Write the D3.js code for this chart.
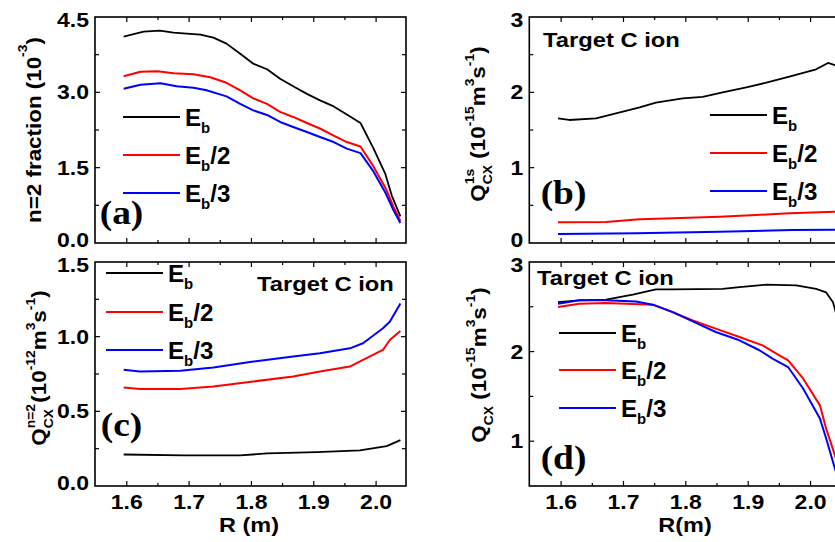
<!DOCTYPE html>
<html>
<head>
<meta charset="utf-8">
<script src="https://cdn.jsdelivr.net/npm/d3@7"></script>
<style>
  html, body { margin: 0; padding: 0; background: #fff; }
  svg { display: block; }
</style>
</head>
<body>
<svg id="fig" width="835" height="542"></svg>
<script>
// ---- data: radial profiles for three beam energy components ----
const seriesNames = ["Eb", "Eb/2", "Eb/3"];
const seriesColors = ["#000000", "#ff0000", "#0000ff"];

// (a) n=2 fraction (1e-3)
const aR_Eb = [1.595,1.627,1.653,1.675,1.696,1.718,1.739,1.76,1.782,1.803,1.825,1.846,1.867,1.889,1.91,1.932,1.953,1.975,1.996,2.015,2.025,2.039];
const aV_Eb = [4.11,4.21,4.23,4.19,4.17,4.15,4.09,3.97,3.77,3.57,3.46,3.27,3.12,2.97,2.84,2.72,2.56,2.39,1.88,1.37,0.95,0.53];
const aR_Eb2 = [1.595,1.622,1.649,1.675,1.707,1.734,1.76,1.782,1.803,1.825,1.846,1.867,1.889,1.91,1.932,1.953,1.975,1.996,2.017,2.028,2.039];
const aV_Eb2 = [3.32,3.41,3.42,3.38,3.36,3.30,3.19,3.04,2.88,2.77,2.61,2.51,2.39,2.28,2.14,2.01,1.92,1.52,1.05,0.72,0.44];
const aR_Eb3 = [1.595,1.622,1.654,1.68,1.707,1.728,1.76,1.782,1.803,1.825,1.846,1.867,1.889,1.91,1.932,1.953,1.975,1.996,2.015,2.028,2.039];
const aV_Eb3 = [3.07,3.15,3.18,3.12,3.09,3.04,2.92,2.77,2.64,2.55,2.41,2.31,2.21,2.11,2.01,1.88,1.79,1.42,1.00,0.65,0.40];

// (b) Q_CX^1s (1e-15 m^3 s^-1)
const bR_Eb = [1.595,1.613,1.656,1.699,1.726,1.752,1.795,1.827,1.859,1.897,1.929,1.966,2.009,2.028,2.039,2.046];
const bV_Eb = [1.655,1.633,1.655,1.743,1.80,1.863,1.92,1.94,2.0,2.067,2.128,2.21,2.306,2.39,2.36,2.33];
const bR_Eb2 = [1.595,1.672,1.726,1.779,1.854,1.913,1.966,2.046];
const bV_Eb2 = [0.275,0.28,0.314,0.327,0.35,0.372,0.394,0.418];
const bR_Eb3 = [1.595,1.721,1.854,1.97,2.046];
const bV_Eb3 = [0.12,0.128,0.15,0.173,0.175];

// (c) Q_CX^n=2 (1e-12 m^3 s^-1)
const cR_Eb = [1.595,1.691,1.782,1.825,1.905,1.974,2.017,2.039];
const cV_Eb = [0.211,0.205,0.205,0.218,0.227,0.238,0.267,0.307];
const cR_Eb2 = [1.595,1.621,1.686,1.739,1.803,1.867,1.91,1.958,1.979,2.011,2.022,2.039];
const cV_Eb2 = [0.66,0.649,0.649,0.667,0.70,0.733,0.767,0.80,0.845,0.911,0.978,1.038];
const cR_Eb3 = [1.595,1.621,1.686,1.739,1.803,1.867,1.91,1.958,1.979,2.011,2.022,2.039];
const cV_Eb3 = [0.778,0.767,0.771,0.793,0.833,0.867,0.889,0.922,0.956,1.056,1.10,1.222];

// (d) Q_CX (1e-15 m^3 s^-1)
const dR_Eb = [1.595,1.629,1.672,1.715,1.752,1.779,1.859,1.886,1.929,1.977,2.009,2.025,2.036,2.046];
const dV_Eb = [2.553,2.572,2.58,2.635,2.695,2.695,2.70,2.72,2.747,2.739,2.70,2.66,2.55,2.30];
const dR_Eb2 = [1.595,1.629,1.672,1.747,1.779,1.811,1.848,1.886,1.923,1.95,1.964,1.988,2.015,2.025,2.039,2.046];
const dV_Eb2 = [2.497,2.535,2.542,2.524,2.44,2.349,2.256,2.163,2.07,1.959,1.903,1.70,1.40,1.14,0.844,0.70];
const dR_Eb3 = [1.595,1.629,1.672,1.72,1.747,1.779,1.811,1.848,1.886,1.918,1.939,1.964,1.988,2.015,2.025,2.039,2.046];
const dV_Eb3 = [2.535,2.572,2.572,2.56,2.524,2.44,2.338,2.219,2.126,2.015,1.922,1.828,1.588,1.253,1.03,0.695,0.55];

// axis ticks
const rTicks = [1.6, 1.7, 1.8, 1.9, 2.0];
const rTickLabels = ["1.6", "1.7", "1.8", "1.9", "2.0"];
const aYTicks = [0, 1.5, 3.0, 4.5], aYLabels = ["0.0", "1.5", "3.0", "4.5"];
const bYTicks = [0, 1, 2, 3], bYLabels = ["0", "1", "2", "3"];
const cYTicks = [0, 0.5, 1.0, 1.5], cYLabels = ["0.0", "0.5", "1.0", "1.5"];
const dYTicks = [1, 2, 3], dYLabels = ["1", "2", "3"];

// ---- drawing ----
const SANS = "'Liberation Sans', Arial, sans-serif";
const SERIF = "'Liberation Serif', 'Times New Roman', serif";
const svg = d3.select("#fig");

// rich text: segments with normal / superscript / subscript runs; a run may be
// stacked under the previous one ("back")
function rich(parent, x, y, segs, o) {
  const size = o.size, sx = o.sx == null ? 1.12 : o.sx;
  const g = parent.append("g")
    .attr("transform", `translate(${x},${y}) rotate(${o.rotate || 0}) scale(${sx},1)`);
  const t = g.append("text")
    .attr("font-family", o.family || SANS)
    .attr("font-weight", "bold")
    .attr("font-size", size)
    .attr("text-anchor", o.anchor || "start")
    .attr("fill", "#000");
  let level = 0, lastLen = 0;
  segs.forEach(s => {
    const k = s.k || "n";
    const target = k === "sup" ? -(o.supShift || 0.5) * size : k === "sub" ? 0.33 * size : 0;
    const fs = k === "n" ? size : 0.62 * size;
    const ts = t.append("tspan").text(s.t).attr("font-size", fs).attr("dy", target - level);
    if (s.back) ts.attr("dx", -lastLen);
    level = target;
    lastLen = ts.node().getComputedTextLength();
  });
  return g;
}

function panel(cfg) {
  const x = d3.scaleLinear().domain([1.549, 2.048]).range([cfg.x0, cfg.x1]);
  const y = d3.scaleLinear().domain(cfg.yDomain).range([cfg.y1, cfg.y0]);
  const g = svg.append("g");

  // curves
  const line = d3.line().x(d => x(d[0])).y(d => y(d[1]));
  cfg.series.forEach((s, i) => {
    const pts = s.R.map((r, j) => [r, s.V[j]]);
    g.append("path").datum(pts)
      .attr("d", line)
      .attr("fill", "none")
      .attr("stroke", seriesColors[i])
      .attr("stroke-width", i === 0 ? 1.8 : 2)
      .attr("stroke-linejoin", "round");
  });

  // ticks on all four sides, pointing inward
  const xMajor = rTicks, xMinor = d3.range(1.55, 2.05, 0.1).map(v => +v.toFixed(2));
  const yMajor = cfg.yTicks, yMinor = cfg.yMinor;
  const tk = g.append("g").attr("stroke", "#000").attr("stroke-width", 1.2);
  const addX = (vals, len) => vals.forEach(v => {
    const px = x(v);
    if (px <= cfg.x0 + 1 || px >= cfg.x1 - 1) return;
    tk.append("line").attr("x1", px).attr("x2", px).attr("y1", cfg.y1).attr("y2", cfg.y1 - len);
    tk.append("line").attr("x1", px).attr("x2", px).attr("y1", cfg.y0).attr("y2", cfg.y0 + len);
  });
  const addY = (vals, len) => vals.forEach(v => {
    const py = y(v);
    if (py <= cfg.y0 + 1 || py >= cfg.y1 - 1) return;
    tk.append("line").attr("y1", py).attr("y2", py).attr("x1", cfg.x0).attr("x2", cfg.x0 + len);
    tk.append("line").attr("y1", py).attr("y2", py).attr("x1", cfg.x1).attr("x2", cfg.x1 - len);
  });
  addX(xMajor, 5); addX(xMinor, 3);
  addY(yMajor, 5); addY(yMinor, 4);

  // frame
  g.append("rect")
    .attr("x", cfg.x0).attr("y", cfg.y0)
    .attr("width", cfg.x1 - cfg.x0).attr("height", cfg.y1 - cfg.y0)
    .attr("fill", "none").attr("stroke", "#000").attr("stroke-width", 1.6);

  // y tick labels; the end labels are nudged inward so stacked panels don't collide
  const dMin = cfg.yDomain[0], dMax = cfg.yDomain[1];
  cfg.yTicks.forEach((v, i) => {
    let nudge = 0;
    if (v === dMin) nudge = -3;
    if (v === dMax) nudge = 3;
    rich(g, cfg.x0 - 6, y(v) + 7 + nudge, [{ t: cfg.yLabels[i] }], { size: 20, anchor: "end", sx: 1.15 });
  });

  // x tick labels and title (bottom panels)
  if (cfg.xTitle) {
    rTicks.forEach((v, i) => {
      rich(g, x(v), cfg.y1 + 23, [{ t: rTickLabels[i] }], { size: 20, anchor: "middle", sx: 1.15 });
    });
    rich(g, cfg.xTitleX, cfg.y1 + 46, [{ t: cfg.xTitle }], { size: 21, anchor: "middle", sx: 1.12 });
  }

  // y title
  rich(g, cfg.yTitleX, cfg.yTitleY, cfg.yTitle, { size: 20, anchor: "middle", rotate: -90, sx: 1.12, supShift: cfg.supShift || 0.55 });

  // panel tag
  rich(g, cfg.tag[0], cfg.tag[1], [{ t: cfg.tag[2] }], { size: 34, anchor: "middle", family: SERIF, sx: 1.1 });

  // target label
  if (cfg.target) {
    rich(g, cfg.target[0], cfg.target[1], [{ t: "Target C ion" }], { size: 20.5, sx: 1.16 });
  }

  // legend
  const legSuffix = ["", "/2", "/3"];
  cfg.legend.ys.forEach((ly, i) => {
    g.append("line")
      .attr("x1", cfg.legend.x).attr("x2", cfg.legend.x + 57)
      .attr("y1", ly).attr("y2", ly)
      .attr("stroke", seriesColors[i]).attr("stroke-width", 2);
    const segs = [{ t: "E" }, { t: "b", k: "sub" }];
    if (legSuffix[i]) segs.push({ t: legSuffix[i] });
    rich(g, cfg.legend.x + 62, ly + 8.5, segs, { size: 23, sx: 1.05 });
  });
}

const L0 = 95, L1 = 406, R0 = 529.3, R1 = 840.5;
const T0 = 17, T1 = 243, B0 = 262, B1 = 486;

const unitsTail = (exp) => [
  { t: " (10" }, { t: exp, k: "sup" }, { t: "m" }, { t: "3", k: "sup" },
  { t: "s" }, { t: "-1", k: "sup" }, { t: ")" }
];

panel({
  x0: L0, x1: L1, y0: T0, y1: T1, yDomain: [0, 4.5],
  yTicks: aYTicks, yLabels: aYLabels, yMinor: [0.75, 2.25, 3.75],
  series: [{ R: aR_Eb, V: aV_Eb }, { R: aR_Eb2, V: aV_Eb2 }, { R: aR_Eb3, V: aV_Eb3 }],
  yTitle: [{ t: "n=2 fraction (10" }, { t: "-3", k: "sup" }, { t: ")" }],
  yTitleX: 41, yTitleY: 130, supShift: 0.7,
  tag: [121.5, 224, "(a)"],
  legend: { x: 123, ys: [117, 155, 193] }
});

panel({
  x0: R0, x1: R1, y0: T0, y1: T1, yDomain: [0, 3],
  yTicks: bYTicks, yLabels: bYLabels, yMinor: [0.5, 1.5, 2.5],
  series: [{ R: bR_Eb, V: bV_Eb }, { R: bR_Eb2, V: bV_Eb2 }, { R: bR_Eb3, V: bV_Eb3 }],
  yTitle: [{ t: "Q" }, { t: "1s", k: "sup" }, { t: "CX", k: "sub", back: true }].concat(unitsTail("-15")),
  yTitleX: 485, yTitleY: 124,
  tag: [563.5, 204, "(b)"],
  target: [543, 47],
  legend: { x: 710, ys: [115, 153, 191] }
});

panel({
  x0: L0, x1: L1, y0: B0, y1: B1, yDomain: [0, 1.5],
  yTicks: cYTicks, yLabels: cYLabels, yMinor: [0.25, 0.75, 1.25],
  series: [{ R: cR_Eb, V: cV_Eb }, { R: cR_Eb2, V: cV_Eb2 }, { R: cR_Eb3, V: cV_Eb3 }],
  yTitle: [{ t: "Q" }, { t: "n=2", k: "sup" }, { t: "CX", k: "sub", back: true }].concat(unitsTail("-12")),
  yTitleX: 46, yTitleY: 368,
  tag: [121.5, 436, "(c)"],
  target: [257, 290.5],
  legend: { x: 106, ys: [273, 312, 350] },
  xTitle: "R (m)", xTitleX: 249
});

panel({
  x0: R0, x1: R1, y0: B0, y1: B1, yDomain: [0.5, 3],
  yTicks: dYTicks, yLabels: dYLabels, yMinor: [1.5, 2.5],
  series: [{ R: dR_Eb, V: dV_Eb }, { R: dR_Eb2, V: dV_Eb2 }, { R: dR_Eb3, V: dV_Eb3 }],
  yTitle: [{ t: "Q" }, { t: "CX", k: "sub" }].concat(unitsTail("-15")),
  yTitleX: 486, yTitleY: 365,
  tag: [563.5, 469, "(d)"],
  target: [537, 285],
  legend: { x: 559, ys: [333, 370, 408] },
  xTitle: "R(m)", xTitleX: 685
});
</script>
</body>
</html>
